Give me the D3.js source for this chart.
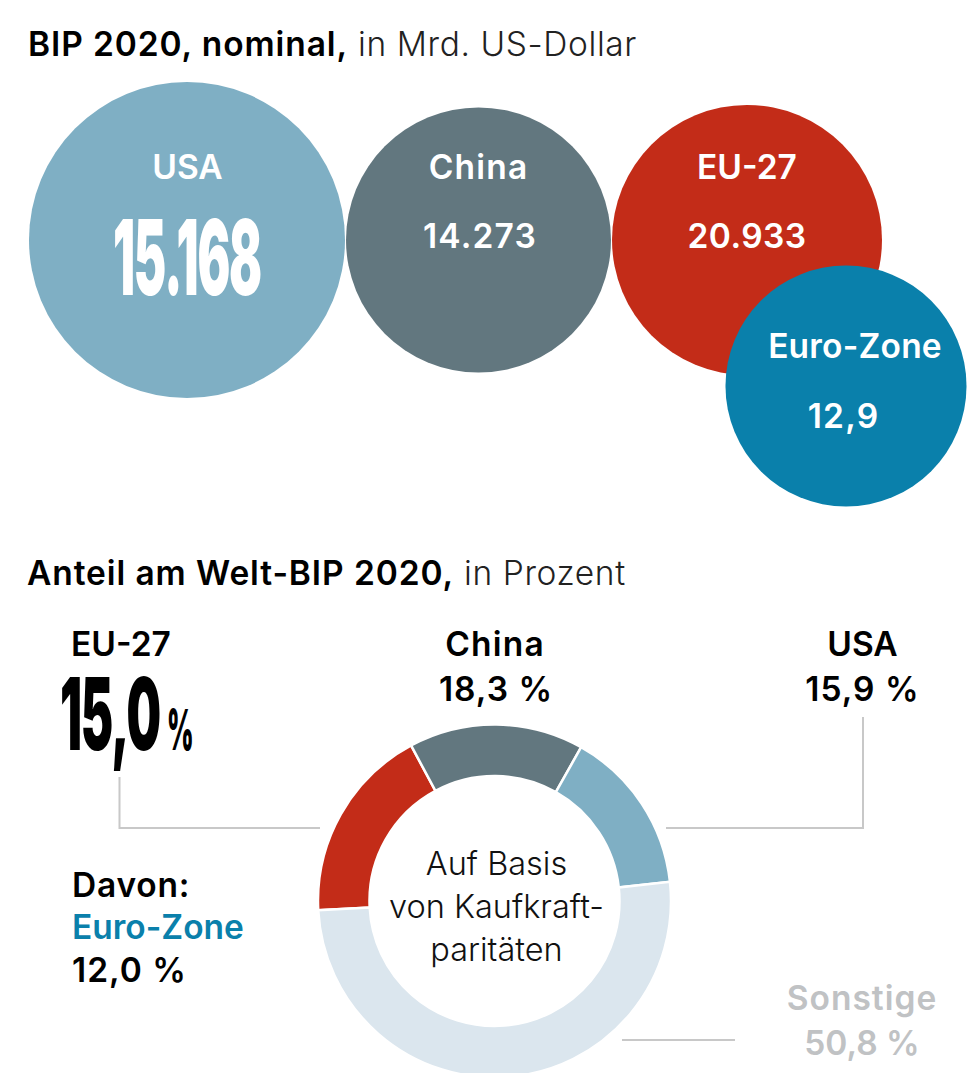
<!DOCTYPE html>
<html>
<head>
<meta charset="utf-8">
<script src="https://cdn.jsdelivr.net/npm/d3@7"></script>
<style>
  html, body { margin: 0; padding: 0; background: #fff; overflow: hidden; }
  text { font-family: Inter, Roboto, sans-serif; }
</style>
</head>
<body>
<div id="chart"></div>
<script>
// Circle labels and printed numbers
const bubbleNames = ["USA", "China", "EU-27", "Euro-Zone"];
const bubbleLabels = ["15.168", "14.273", "20.933", "12,9"];
// Circle sizes (they do not follow the printed labels)
const bubbleSizes = [20933, 14720, 15280, 12180];

// Ring segments, shares
const ringNames = ["EU-27", "China", "USA", "Sonstige"];
const ringShares = [18.0, 16.0, 15.1, 50.9];

// Printed shares
const shareLabels = ["15,0", "18,3 %", "15,9 %", "50,8 %"];
const euroZoneShare = "12,0 %";
const centerLines = ["Auf Basis", "von Kaufkraft-", "paritäten"];

const colors = {
  "USA": "#7fafc4",
  "China": "#62777f",
  "EU-27": "#c32c18",
  "Euro-Zone": "#0a80ab",
  "Sonstige": "#dbe6ee"
};
const lineColor = "#c8c8c8";
const restColor = "#c0c2c4";

const width = 969;
const height = 1073;
const labelSize = 33.5;

const svg = d3.select("#chart").append("svg")
  .attr("width", width)
  .attr("height", height)
  .attr("viewBox", [0, 0, width, height]);

// small helper for all the labels
function label(txt, x, y, size, opts = {}) {
  return svg.append("text")
    .attr("x", x)
    .attr("y", y)
    .attr("font-size", size)
    .attr("font-weight", opts.weight || 600)
    .attr("fill", opts.fill || "#000")
    .attr("text-anchor", opts.anchor || "middle")
    .attr("letter-spacing", opts.spacing || 0)
    .text(txt);
}

// the heavy condensed numbers: squeeze a bold face to the wanted width
function bigNumber(txt, x, y, size, targetWidth, fill) {
  const t = svg.append("text")
    .attr("font-family", "Roboto, sans-serif")
    .attr("font-size", size)
    .attr("font-weight", 900)
    .attr("fill", fill)
    .attr("letter-spacing", -size * 0.025)
    .text(txt);
  const sx = targetWidth / t.node().getComputedTextLength();
  t.attr("transform", `translate(${x},${y}) scale(${sx},1)`);
  return t;
}

function title(bold, light, x, y) {
  const t = svg.append("text").attr("x", x).attr("y", y).attr("font-size", labelSize);
  t.append("tspan").attr("font-weight", 600).attr("fill", "#000").attr("letter-spacing", 0.9).text(bold);
  t.append("tspan").attr("font-weight", 300).attr("fill", "#222").attr("letter-spacing", 0.6).text(" " + light);
}

title("BIP 2020, nominal,", "in Mrd. US-Dollar", 28, 56);
title("Anteil am Welt-BIP 2020,", "in Prozent", 27, 585);

// Bubbles
const radius = d3.scaleSqrt().domain([0, d3.max(bubbleSizes)]).range([0, 158]);
const bubbleX = d3.scaleOrdinal().domain(bubbleNames).range([187, 478.5, 747, 846]);
const bubbleY = d3.scaleOrdinal().domain(bubbleNames).range([240, 240, 240, 386]);

svg.append("g")
  .selectAll("circle")
  .data(bubbleNames)
  .join("circle")
  .attr("cx", (d) => bubbleX(d))
  .attr("cy", (d) => bubbleY(d))
  .attr("r", (d, i) => radius(bubbleSizes[i]))
  .attr("fill", (d) => colors[d]);

const white = { fill: "#fff" };
const whiteNum = { fill: "#fff", spacing: 1.2 };
label(bubbleNames[0], 187.5, 179, labelSize, white);
bigNumber(bubbleLabels[0], 113, 295, 104, 148, "#fff");
label(bubbleNames[1], 478.5, 179, labelSize, { fill: "#fff", spacing: 1.2 });
label(bubbleLabels[1], 480, 248, labelSize, whiteNum);
label(bubbleNames[2], 747, 179, labelSize, white);
label(bubbleLabels[2], 747, 248, labelSize, { fill: "#fff", spacing: 0.4 });
label(bubbleNames[3], 855, 358, labelSize, { fill: "#fff", spacing: 0.2 });
label(bubbleLabels[3], 843.5, 428, labelSize, whiteNum);

// Ring
const ringCx = 494.5;
const ringCy = 901;
const pie = d3.pie()
  .sort(null)
  .value((d, i) => ringShares[i])
  .startAngle(-93 * Math.PI / 180)
  .endAngle(267 * Math.PI / 180);
const arc = d3.arc().innerRadius(125).outerRadius(176.5);

svg.append("g")
  .attr("transform", `translate(${ringCx},${ringCy})`)
  .selectAll("path")
  .data(pie(ringNames))
  .join("path")
  .attr("d", arc)
  .attr("fill", (d) => colors[d.data])
  .attr("stroke", "#fff")
  .attr("stroke-width", 2.5);

// Leader lines
const leader = d3.line();
svg.append("g")
  .attr("fill", "none")
  .attr("stroke", lineColor)
  .attr("stroke-width", 2)
  .selectAll("path")
  .data([
    [[119.5, 777], [119.5, 828], [320, 828]],
    [[863, 717], [863, 828], [666, 828]],
    [[622, 1040], [735, 1040]]
  ])
  .join("path")
  .attr("d", leader);

// Ring labels
label(ringNames[0], 71, 656, labelSize, { anchor: "start" });
bigNumber(shareLabels[0], 60, 750, 101, 100, "#000");
bigNumber("%", 167, 750, 57, 26, "#000");
label(ringNames[1], 495, 656, labelSize, { spacing: 1.2 });
label(shareLabels[1], 496, 701, labelSize, { spacing: 1 });
label(ringNames[2], 862.5, 656, labelSize);
label(shareLabels[2], 862.5, 701, labelSize, { spacing: 1 });
label("Davon:", 72, 897, labelSize, { anchor: "start", spacing: 0.8 });
label(bubbleNames[3], 72, 939, labelSize, { anchor: "start", fill: colors["Euro-Zone"] });
label(euroZoneShare, 72, 982, labelSize, { anchor: "start", spacing: 1 });
label(ringNames[3], 862, 1010, labelSize, { fill: restColor, spacing: 1 });
label(shareLabels[3], 862, 1055, labelSize, { fill: restColor });

centerLines.forEach((line, i) => {
  label(line, 496.5, 875 + i * 43, 32.5, { weight: 300, fill: "#111" });
});
</script>
</body>
</html>
